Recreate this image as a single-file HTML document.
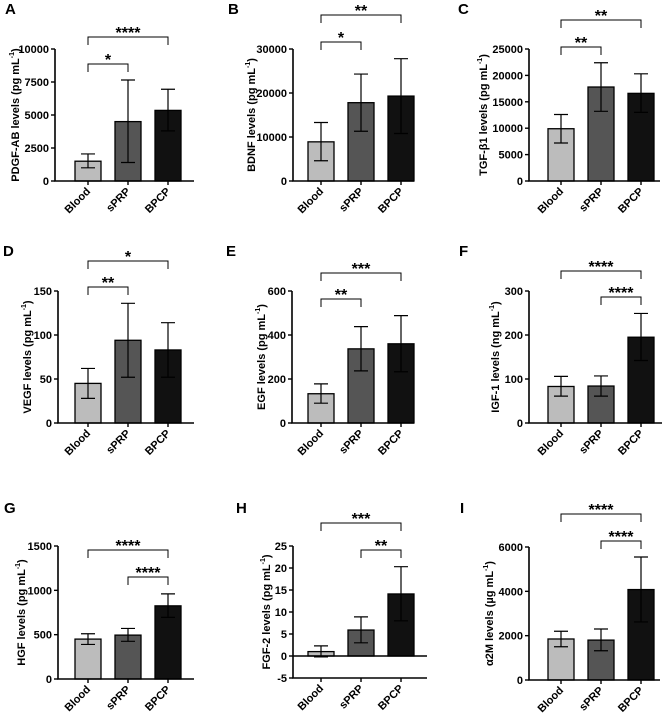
<!DOCTYPE html>
<html><head><meta charset="utf-8"><style>
html,body{margin:0;padding:0;background:#fff;}
svg{display:block;font-family:"Liberation Sans",Arial,sans-serif;font-weight:bold;}
</style></head><body>
<svg id="fig" width="669" height="715" viewBox="0 0 669 715" xmlns="http://www.w3.org/2000/svg"></svg>
<script>
const groups = ["Blood","sPRP","BPCP"];
const pdgfMeans=[1500,4500,5350], pdgfLow=[1000,1400,3800], pdgfHigh=[2050,7650,6950], pdgfTicks=[0,2500,5000,7500,10000];
const bdnfMeans=[8900,17800,19300], bdnfLow=[4600,11300,10800], bdnfHigh=[13300,24300,27800], bdnfTicks=[0,10000,20000,30000];
const tgfMeans=[9900,17800,16600], tgfLow=[7200,13200,13000], tgfHigh=[12600,22400,20300], tgfTicks=[0,5000,10000,15000,20000,25000];
const vegfMeans=[45,94,83], vegfLow=[28,52,52], vegfHigh=[62,136,114], vegfTicks=[0,50,100,150];
const egfMeans=[133,337,360], egfLow=[90,237,233], egfHigh=[178,438,488], egfTicks=[0,200,400,600];
const igfMeans=[83,84,195], igfLow=[61,61,142], igfHigh=[106,107,249], igfTicks=[0,100,200,300];
const hgfMeans=[450,495,825], hgfLow=[390,425,695], hgfHigh=[510,570,960], hgfTicks=[0,500,1000,1500];
const fgfMeans=[1.0,5.9,14.1], fgfLow=[-0.2,3.0,8.0], fgfHigh=[2.3,8.9,20.3], fgfTicks=[-5,0,5,10,15,20,25];
const a2mMeans=[1850,1800,4080], a2mLow=[1500,1320,2620], a2mHigh=[2200,2300,5550], a2mTicks=[0,2000,4000,6000];

const NS="http://www.w3.org/2000/svg";
const svg=document.getElementById('fig');
const colors=["#bcbcbc","#555555","#111111"];
function mk(tag,attrs,parent){const e=document.createElementNS(NS,tag);for(const k in attrs)e.setAttribute(k,attrs[k]);(parent||svg).appendChild(e);return e;}

const panels=[
 {id:"a",letter:"A",lx:5,ly:14,title:"PDGF-AB levels (pg mL",tx:16,axX:55,axEnd:194,top:49,bot:181,cx:[88,128,168],m:pdgfMeans,lo:pdgfLow,hi:pdgfHigh,ticks:pdgfTicks,br:[[0,1,64,"*"],[0,2,37,"****"]]},
 {id:"b",letter:"B",lx:228,ly:14,title:"BDNF levels (pg mL",tx:252,axX:293,axEnd:414,top:49,bot:181,cx:[321,361,401],m:bdnfMeans,lo:bdnfLow,hi:bdnfHigh,ticks:bdnfTicks,br:[[0,1,42,"*"],[0,2,15,"**"]]},
 {id:"c",letter:"C",lx:458,ly:14,title:"TGF-β1 levels (pg mL",tx:484,axX:529,axEnd:660,top:49,bot:181,cx:[561,601,641],m:tgfMeans,lo:tgfLow,hi:tgfHigh,ticks:tgfTicks,br:[[0,1,47,"**"],[0,2,20,"**"]]},
 {id:"d",letter:"D",lx:3,ly:256,title:"VEGF levels (pg mL",tx:28,axX:58,axEnd:194,top:291,bot:423,cx:[88,128,168],m:vegfMeans,lo:vegfLow,hi:vegfHigh,ticks:vegfTicks,br:[[0,1,287,"**"],[0,2,261,"*"]]},
 {id:"e",letter:"E",lx:226,ly:256,title:"EGF levels (pg mL",tx:262,axX:292,axEnd:414,top:291,bot:423,cx:[321,361,401],m:egfMeans,lo:egfLow,hi:egfHigh,ticks:egfTicks,br:[[0,1,299,"**"],[0,2,273,"***"]]},
 {id:"f",letter:"F",lx:459,ly:256,title:"IGF-1 levels (ng mL",tx:496,axX:529,axEnd:662,top:291,bot:423,cx:[561,601,641],m:igfMeans,lo:igfLow,hi:igfHigh,ticks:igfTicks,br:[[1,2,297,"****"],[0,2,271,"****"]]},
 {id:"g",letter:"G",lx:4,ly:513,title:"HGF levels (pg mL",tx:22,axX:58,axEnd:194,top:546,bot:679,cx:[88,128,168],m:hgfMeans,lo:hgfLow,hi:hgfHigh,ticks:hgfTicks,br:[[1,2,577,"****"],[0,2,550,"****"]]},
 {id:"h",letter:"H",lx:236,ly:513,title:"FGF-2 levels (pg mL",tx:267,axX:293,axEnd:427,top:546,bot:678,cx:[321,361,401],m:fgfMeans,lo:fgfLow,hi:fgfHigh,ticks:fgfTicks,zeroLine:true,br:[[1,2,550,"**"],[0,2,523,"***"]]},
 {id:"i",letter:"I",lx:460,ly:513,title:"α2M levels (µg mL",tx:490,axX:529,axEnd:660,top:547,bot:680,cx:[561,601,641],m:a2mMeans,lo:a2mLow,hi:a2mHigh,ticks:a2mTicks,br:[[1,2,541,"****"],[0,2,514,"****"]]}
];

panels.forEach(p=>{
  const g=mk('g',{});
  
  
  const tmin=p.ticks[0], tmax=p.ticks[p.ticks.length-1];
  const y=v=>p.bot-(v-tmin)/(tmax-tmin)*(p.bot-p.top);
  const L=mk('text',{x:p.lx,y:p.ly,'font-size':15,fill:'#000'},g);L.textContent=p.letter;
  
  
  const midY=(p.top+p.bot)/2;
  const T=mk('text',{x:p.tx,y:midY,'font-size':11,'text-anchor':'middle',transform:`rotate(-90 ${p.tx} ${midY})`,'dominant-baseline':'central'},g);
  T.textContent=p.title;
  const sup=mk('tspan',{'font-size':7,dy:-4},T);sup.textContent="-1";
  const cl=mk('tspan',{dy:4},T);cl.textContent=")";
  
  
  const base=p.zeroLine?y(0):p.bot;
  p.m.forEach((v,i)=>{
    const yy=y(v);
    const r=mk('rect',{x:p.cx[i]-13,y:Math.min(yy,base),width:26,height:Math.abs(base-yy),fill:colors[i],stroke:'#000','stroke-width':1.3},g);
    
    
    const e=mk('path',{d:`M${p.cx[i]},${y(p.lo[i])}V${y(p.hi[i])}M${p.cx[i]-7},${y(p.lo[i])}H${p.cx[i]+7}M${p.cx[i]-7},${y(p.hi[i])}H${p.cx[i]+7}`,stroke:'#000','stroke-width':1.2,fill:'none'},g);
    
    
  });
  const ax=mk('path',{d:`M${p.axX},${p.top}V${p.bot}H${p.axEnd}`,stroke:'#000','stroke-width':1.6,fill:'none'},g);
  
  
  if(p.zeroLine){const z=mk('line',{x1:p.axX,x2:p.axEnd,y1:y(0),y2:y(0),stroke:'#000','stroke-width':1.4},g);
    
    }
  p.ticks.forEach(t=>{
    mk('line',{x1:p.axX-4,x2:p.axX,y1:y(t),y2:y(t),stroke:'#000','stroke-width':1.4},g);
    const tl=mk('text',{x:p.axX-6,y:y(t)+4,'font-size':11,'text-anchor':'end'},g);tl.textContent=t;
    
    
  });
  groups.forEach((n,i)=>{
    mk('line',{x1:p.cx[i],x2:p.cx[i],y1:p.bot,y2:p.bot+4,stroke:'#000','stroke-width':1.4},g);
    const lx=p.cx[i]+3, ly=p.bot+11;
    const xl=mk('text',{x:lx,y:ly,'font-size':11,'text-anchor':'end',transform:`rotate(-45 ${lx} ${ly})`},g);xl.textContent=n;
    
    
  });
  p.br.forEach(b=>{
    const x1=p.cx[b[0]],x2=p.cx[b[1]],by=b[2];
    const bp=mk('path',{d:`M${x1},${by+8}V${by}H${x2}V${by+8}`,stroke:'#000','stroke-width':1,fill:'none'},g);
    
    
    const st=mk('text',{x:(x1+x2)/2,y:by+1,'font-size':16,'text-anchor':'middle'},g);st.textContent=b[3];
    
    
  });
});
</script>
</body></html>
